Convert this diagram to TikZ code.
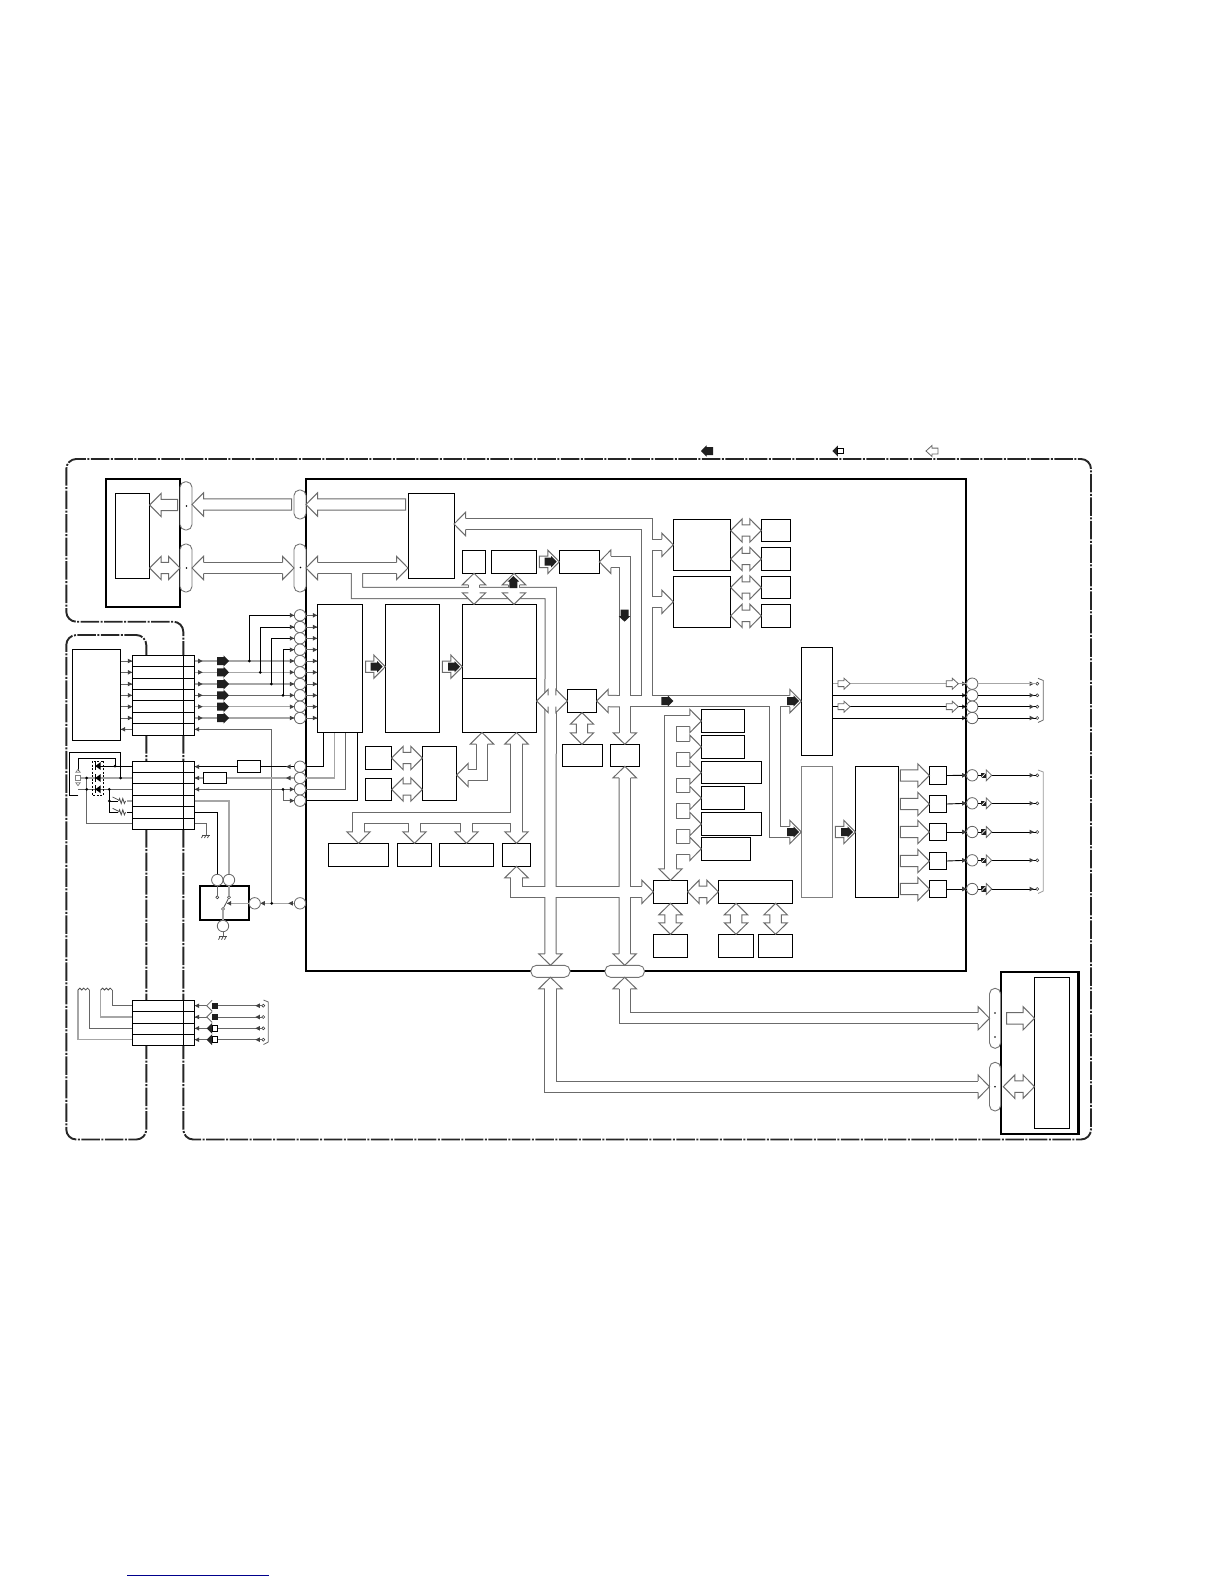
\documentclass[tikz,border=0pt]{standalone}
\usepackage{tikz}
\usetikzlibrary{arrows.meta, calc, positioning}

\newcommand{\blk}[6][]{\node[blkbox,#1,minimum width={(#5-#3)*1pt},minimum height={(#6-#4)*1pt}] (#2) at ({(#3+#5)/2},{(#4+#6)/2}) {};}
\newcommand{\capsule}[5]{\node[capnode,minimum width={(#4-#2)*1pt},minimum height={(#5-#3)*1pt}] (#1) at ({(#2+#4)/2},{(#3+#5)/2}) {};}

\tikzset{
  blkbox/.style={draw=black, fill=white, line width=1pt, inner sep=0pt, outer sep=0pt},
  thickbox/.style={line width=2.2pt},
  faintbox/.style={draw=black!50},
  connbox/.style={line width=1.2pt},
  capnode/.style={draw=black!55, fill=white, line width=0.9pt, rounded corners=5.5pt, inner sep=0pt, outer sep=0pt},
  pinc/.style={circle, draw=black!60, fill=white, line width=0.8pt, minimum size=11.4pt, inner sep=0pt, outer sep=0pt},
  termc/.style={circle, draw=black!75, fill=white, line width=0.6pt, minimum size=3pt, inner sep=0pt, outer sep=0pt},
  zone/.style={line width=1.9pt, black!85, rounded corners=10pt, dash pattern=on 18.5pt off 1.5pt on 2pt off 1.5pt},
  sig/.style={line width=0.9pt, black},
  sigdark/.style={line width=0.9pt, black!60},
  siggray/.style={line width=1.1pt, black!35},
  rowline/.style={line width=1pt, black},
  busline/.style={draw=black!58, line width=1pt},
  busouter/.style={draw=black!58, line width=12.3pt},
  businner/.style={draw=white, line width=10.3pt},
  tipboth/.style={shorten <=6pt, shorten >=6pt},
  tipend/.style={shorten >=6pt},
  tipstart/.style={shorten <=6pt},
  % block arrow with a closed tail between two named points
  fatarrow/.style={busline, fill=white, to path={
    ($(\tikztostart)!#1!(\tikztotarget)!5.7pt!90:(\tikztotarget)$)
    -- ($(\tikztotarget)!11.5pt!(\tikztostart)!5.7pt!-90:(\tikztostart)$)
    -- ($(\tikztotarget)!11.5pt!(\tikztostart)!11.7pt!-90:(\tikztostart)$)
    -- (\tikztotarget)
    -- ($(\tikztotarget)!11.5pt!(\tikztostart)!11.7pt!90:(\tikztostart)$)
    -- ($(\tikztotarget)!11.5pt!(\tikztostart)!5.7pt!90:(\tikztostart)$)
    -- ($(\tikztostart)!#1!(\tikztotarget)!5.7pt!-90:(\tikztotarget)$) -- cycle}},
  fatarrow/.default=0pt,
  % block arrow with two heads
  dblarrow/.style={busline, fill=white, to path={
    ($(\tikztostart)!#1!(\tikztotarget)$)
    -- ($(\tikztostart)!#1+11.5pt!(\tikztotarget)!11.7pt!90:(\tikztotarget)$)
    -- ($(\tikztostart)!#1+11.5pt!(\tikztotarget)!5.7pt!90:(\tikztotarget)$)
    -- ($(\tikztotarget)!11.5pt!(\tikztostart)!5.7pt!-90:(\tikztostart)$)
    -- ($(\tikztotarget)!11.5pt!(\tikztostart)!11.7pt!-90:(\tikztostart)$)
    -- (\tikztotarget)
    -- ($(\tikztotarget)!11.5pt!(\tikztostart)!11.7pt!90:(\tikztostart)$)
    -- ($(\tikztotarget)!11.5pt!(\tikztostart)!5.7pt!90:(\tikztostart)$)
    -- ($(\tikztostart)!#1+11.5pt!(\tikztotarget)!5.7pt!-90:(\tikztotarget)$)
    -- ($(\tikztostart)!#1+11.5pt!(\tikztotarget)!11.7pt!-90:(\tikztotarget)$) -- cycle}},
  dblarrow/.default=0pt,
  buschead/.pic={
    \fill[white] (-11.5,-11.7) -- (0,0) -- (-11.5,11.7) -- cycle;
    \draw[busline] (-11.5,-5.7) -- (-11.5,-11.7) -- (0,0) -- (-11.5,11.7) -- (-11.5,5.7);
  },
  blackmark/.pic={
    \fill[black!88] (-12,-4) -- (-5.5,-4) -- (-5.5,-5.7) -- (0,0) -- (-5.5,5.7) -- (-5.5,4) -- (-12,4) -- cycle;
  },
  hollowmark/.pic={
    \draw[black!60, line width=0.8pt, fill=white] (-12,-2.9) -- (-6,-2.9) -- (-6,-5.5) -- (0,0) -- (-6,5.5) -- (-6,2.9) -- (-12,2.9) -- cycle;
  },
  tinyhead/.pic={
    \fill[black!75] (-4.5,-2.3) -- (0,0) -- (-4.5,2.3) -- cycle;
  },
  whitesquarehead/.pic={
    \fill[black!85] (0,0) -- (5.5,-5.5) -- (5.5,5.5) -- cycle;
    \draw[black, line width=0.9pt, fill=white] (5.5,-2.8) rectangle (11,2.8);
  },
  blacksquarehead/.pic={
    \draw[black!60, line width=0.8pt, fill=white] (5.5,-5.5) -- (0,0) -- (5.5,5.5);
    \fill[black!88] (5.5,-2.8) rectangle (11,2.8);
  },
  outmark/.pic={
    \draw[black!60, line width=0.8pt, fill=white] (-5.5,-5.5) -- (0,0) -- (-5.5,5.5) -- cycle;
    \fill[black!88] (-11,-2.8) rectangle (-5.5,2.8);
    \draw[white, line width=0.7pt] (-10.5,2.3) -- (-6,-2.3);
  },
  groundmark/.pic={
    \draw[black!70, line width=0.8pt] (-4,0) -- (4,0);
    \foreach \s in {-3,0,3} \draw[black!70, line width=0.7pt] (\s,0) -- (\s-1.5,3);
  },
  diodemark/.pic={
    \fill[black] (-2.7,0) -- (2.7,-4) -- (2.7,4) -- cycle;
    \draw[black, line width=1pt] (-2.7,-4) -- (-2.7,4);
  },
  coilmark/.pic={
    \draw[line width=0.8pt, draw=black!70] (0,0) arc[start angle=180, end angle=0, radius=1.9pt] arc[start angle=180, end angle=0, radius=1.9pt] arc[start angle=180, end angle=0, radius=1.9pt];
  },
  resmark/.pic={
    \draw[line width=0.8pt, draw=black!70] (0,0) -- (1,-2.5) -- (2.6,2.5) -- (4.2,-2.5) -- (5.8,2.5) -- (7,0);
    \draw[line width=0.7pt, draw=black!70] (-6,-4) -- (0,-1);
  },
}

\begin{document}
\begin{tikzpicture}[x=1pt, y=-1pt]
\useasboundingbox (0,0) rectangle (1224,1584);

% Dash-dot zones
\draw[zone] (183.3,1139.5) -- (183.3,621.7) -- (66.3,621.7) -- (66.3,459) -- (1091,459) -- (1091,1139.5) -- cycle;
\draw[zone] (146.3,1139.5) -- (146.3,635) -- (66.3,635) -- (66.3,1139.5) -- cycle;

% Legend
\pic[rotate=180] at (701,451) {blackmark};
\pic at (832.3,451) {whitesquarehead};
\pic[rotate=180] at (926,451) {hollowmark};
\draw[blue!55!black, line width=1.2pt] (127,1575.3) -- (269,1575.3);

% Outer modules
\blk[thickbox]{topmod}{106}{478.7}{180}{606.7}
\blk{topcore}{115.3}{493}{149.7}{578}
\blk[thickbox]{main}{306}{478.7}{966}{970.7}
\blk[thickbox]{botmod}{1001}{972}{1078.5}{1134}
\blk{botcore}{1034.5}{977.3}{1069.8}{1128.3}

% Blocks of the main module
\blk{buf}{408}{493}{454}{578}
\blk{smallA}{462.3}{550.3}{485.7}{573.3}
\blk{smallB}{491.3}{550.3}{536.7}{573.3}
\blk{smallC}{559.3}{550.3}{599.3}{573.3}
\blk{fifoA}{673.3}{519.3}{730.7}{570.3}
\blk{fifoB}{673.3}{576.3}{730.7}{627.3}
\blk{chipA}{761.3}{519.3}{790.7}{541.7}
\blk{chipB}{761.3}{547.3}{790.7}{570.7}
\blk{chipC}{761.3}{576.3}{790.7}{598.7}
\blk{chipD}{761.3}{604.3}{790.7}{627.3}
\blk{decodeL}{317.3}{604.3}{362.7}{732.5}
\blk{decodeM}{385.3}{604.3}{439.7}{732.5}
\blk{ram}{462.3}{604.3}{536.7}{732.5}
\draw[rowline] (ram.west |- 0,678.3) -- (ram.east |- 0,678.3);
\blk{port}{567.3}{689.3}{596.7}{712.7}
\blk{rom}{562.3}{744.3}{602.3}{766.3}
\blk{latch}{610.3}{744.3}{639.3}{766.3}
\blk{chipE}{365.3}{746.3}{391.7}{769.7}
\blk{chipF}{365.3}{778.3}{391.7}{800.7}
\blk{combo}{422.3}{746.3}{456.7}{800.7}
\blk{decA}{328.3}{843.3}{388.7}{866.3}
\blk{decB}{397.3}{843.3}{431.7}{866.3}
\blk{decC}{439.3}{843.3}{493.7}{866.3}
\blk{decD}{502.3}{843.3}{530.7}{866.3}
\blk{hub}{653.3}{880.3}{687.7}{903.3}
\blk{wide}{718.3}{880.3}{792.7}{903.3}
\blk{memA}{653.3}{934.3}{687.7}{957.3}
\blk{memB}{718.3}{934.3}{753.8}{957.3}
\blk{memC}{758.5}{934.3}{792.7}{957.3}
\blk{slotA}{701.3}{709.3}{744.7}{732.7}
\blk{slotB}{701.3}{735.3}{744.7}{758.3}
\blk{slotC}{701.3}{761.3}{761.7}{783.7}
\blk{slotD}{701.3}{786.3}{744.7}{809.7}
\blk{slotE}{701.3}{812.3}{761.7}{835.7}
\blk{slotF}{701.3}{837.3}{750.7}{860.3}
\blk{outA}{801.3}{647.3}{832.7}{755.3}
\blk[faintbox]{outB}{801.3}{766.7}{832.7}{897.3}
\blk{dsp}{855.3}{766.3}{898.7}{897.3}
\blk{drvA}{929.3}{766.3}{946.7}{784.7}
\blk{drvB}{929.3}{795.3}{946.7}{812.7}
\blk{drvC}{929.3}{823.3}{946.7}{840.7}
\blk{drvD}{929.3}{852.3}{946.7}{869.7}
\blk{drvE}{929.3}{880.3}{946.7}{897.7}

% Connector capsules
\capsule{capTopA}{180}{481.7}{192}{530}
\capsule{capTopB}{180}{544}{192}{592}
\capsule{capMainA}{294}{490}{306}{519}
\capsule{capMainB}{294}{544}{306}{592}
\capsule{capBotA}{530.9}{965.3}{570}{977.3}
\capsule{capBotB}{605}{965.3}{644.4}{977.3}
\capsule{capRA}{989.5}{988.3}{1000.7}{1048.3}
\capsule{capRB}{989.5}{1062.3}{1000.7}{1111}
\foreach \px/\py in {186.5/506, 186.5/568, 300.5/567.5, 995/1013, 995/1037, 995/1086.7}
  \fill (\px,\py) circle (0.9pt);

% Bus junctions
\coordinate (jA) at (357,567.7);
\coordinate (jB) at (550.7,593);
\coordinate (jC) at (647,524);
\coordinate (jD) at (647,701.7);
\coordinate (jE) at (624.8,701.2);
\coordinate (jF) at (775,701.2);
\coordinate (jG) at (516.5,891.8);
\coordinate (jH) at (516.5,817.7);
\coordinate (jK) at (482,775);
\newcommand{\busroutes}{
  \draw[bus,tipboth] (capTopB.east) -- (capMainB.west);
  \draw[bus,tipboth] (capMainB.east) -- (buf.west |- capMainB);
  \draw[bus,tipend] (jA) -- (jA |- jB) -- (jB) -- (capBotA.north);
  \draw[bus,tipboth] (smallA.south) -- (ram.north -| smallA);
  \draw[bus,tipboth] (smallB.south) -- (ram.north -| smallB);
  \draw[bus,tipstart] (buf.east |- jC) -- (jC) -- (jD);
  \draw[bus,tipend] (fifoA.west -| jC) -- (fifoA.west);
  \draw[bus,tipend] (fifoB.west -| jC) -- (fifoB.west);
  \draw[bus,tipend] (jE) -- (outA.west |- jE);
  \draw[bus,tipend] (jF) -- (jF |- outB.west) -- (outB.west);
  \draw[bus,tipstart] (port.east) -- (jE);
  \draw[bus,tipboth] (smallC.east) -- (smallC.east -| jE) -- (latch.north);
  \draw[bus,tipboth] (ram.east |- port) -- (port.west);
  \draw[bus,tipboth] (latch.south) -- (capBotB.north);
  \draw[bus,tipboth] (decD.south) -- (jG) -- (hub.west |- jG);
  \draw[bus,tipboth] (ram.south -| jH) -- (decD.north);
  \draw[bus,tipend] (jH) -- (decA.north |- jH) -- (decA.north);
  \draw[bus,tipend] (decB.north |- jH) -- (decB.north);
  \draw[bus,tipend] (decC.north |- jH) -- (decC.north);
  \draw[bus,tipboth] (combo.east |- jK) -- (jK) -- (ram.south -| jK);
  \draw[bus,tipboth] (hub.north) -- (hub.north |- slotA.west) -- (slotA.west);
  \foreach \s in {slotB,slotC,slotD,slotE,slotF}
    \draw[bus,tipend] (hub.north |- \s.west) -- (\s.west);
  \draw[bus,tipboth] (capBotA.south) -- (capBotA.south |- capRB.west) -- (capRB.west);
  \draw[bus,tipboth] (capBotB.south) -- (capBotB.south |- capRA.west) -- (capRA.west);
}
% Buses: outlines, then interiors, then heads
\tikzset{bus/.style={busouter}}
\busroutes
\tikzset{bus/.style={businner}}
\busroutes
\foreach \tip/\ang in {capTopB.east/180, capMainB.west/0, capMainB.east/180, buf.west |- capMainB/0,
  smallA.south/90, ram.north -| smallA/270, smallB.south/90, ram.north -| smallB/270,
  buf.east |- jC/180, fifoA.west/0, fifoB.west/0, outA.west |- jE/0, outB.west/0, port.east/180,
  smallC.east/180, latch.north/270, ram.east |- port/180, port.west/0, latch.south/90,
  capBotB.north/270, capBotA.north/270, decD.south/90, hub.west |- jG/0, ram.south -| jH/90,
  decD.north/270, decA.north/270, decB.north/270, decC.north/270, combo.east |- jK/180,
  ram.south -| jK/90, hub.north/270, slotA.west/0, slotB.west/0, slotC.west/0, slotD.west/0,
  slotE.west/0, slotF.west/0, capBotA.south/90, capRB.west/0, capBotB.south/90, capRA.west/0}
  \pic[rotate=\ang] at (\tip) {buschead};

% Straight block arrows
\coordinate (tailTop) at (177.7,505);
\coordinate (rowDec) at (0,666.7);
\draw[fatarrow] (tailTop) to (topcore.east |- tailTop);
\draw[fatarrow=2.3pt] (capMainA.west) to (capTopA.east |- capMainA);
\draw[fatarrow=2.3pt] (buf.west |- capMainA) to (capMainA.east);
\draw[fatarrow=3pt] (decodeL.east |- rowDec) to (decodeM.west |- rowDec);
\draw[fatarrow=2.6pt] (decodeM.east |- rowDec) to (ram.west |- rowDec);
\draw[fatarrow=2.7pt] (smallB.east) to (smallC.west);
\draw[fatarrow=2.6pt] (outB.east) to (dsp.west |- outB.east);
\foreach \d in {drvA,drvB,drvC,drvD,drvE}
  \draw[fatarrow=1.6pt] (dsp.east |- \d.west) to (\d.west);
\draw[fatarrow=5.8pt] (capRA.east) to (botcore.west |- capRA.east);
\draw[dblarrow] (topcore.east |- capTopB) to (capTopB.west);
\draw[dblarrow=2.6pt] (capRB.east) to (botcore.west |- capRB.east);
\foreach \c in {chipA,chipB,chipC,chipD}
  \draw[dblarrow] (fifoA.east |- \c.west) to (\c.west);
\draw[dblarrow] (chipE.east) to (combo.west |- chipE.east);
\draw[dblarrow] (chipF.east) to (combo.west |- chipF.east);
\draw[dblarrow] (port.south) to (rom.north -| port.south);
\draw[dblarrow] (hub.east) to (wide.west);
\draw[dblarrow] (hub.south) to (memA.north);
\draw[dblarrow] (memB.north |- wide.south) to (memB.north);
\draw[dblarrow] (memC.north |- wide.south) to (memC.north);

% Solid marks on the buses
\foreach \mx/\my/\ang in {382.7/666.7/0, 460/666.7/0, 556.7/561.7/0, 853/832/0, 799/701/0, 799/832/0,
  673.3/701/0, 624.5/621.7/270, 513.4/576/90}
  \pic[rotate=\ang] at (\mx,\my) {blackmark};

% Left connectors
\blk[connbox]{connA}{132.3}{655.3}{194.7}{735.3}
\blk[connbox]{connB}{132.3}{761.3}{194.7}{829.3}
\blk[connbox]{connC}{132.3}{1000.7}{194.7}{1045.3}
\foreach \ry in {666.3,678.3,689.3,700.3,712.3,723.7}
  \draw[rowline] (connA.west |- 0,\ry) -- (connA.east |- 0,\ry);
\foreach \ry in {772.3,783.3,795,806.3,818}
  \draw[rowline] (connB.west |- 0,\ry) -- (connB.east |- 0,\ry);
\foreach \ry in {1011.7,1023.3,1034.3}
  \draw[rowline] (connC.west |- 0,\ry) -- (connC.east |- 0,\ry);
\foreach \c in {connA,connB,connC}
  \draw[rowline] (183.3,0 |- \c.north) -- (183.3,0 |- \c.south);
\blk{host}{72.3}{649.3}{120.7}{740.3}

% Input pins
\foreach \i/\py in {1/615.3, 2/627, 3/638.3, 4/649.7, 5/661, 6/672.3, 7/684, 8/695.3, 9/706.7, 10/718,
  11/766.7, 12/778, 13/789.3, 14/800.7, 15/903.3}
  \node[pinc] (pin\i) at (300,\py) {};
\foreach \i/\st in {5/siggray, 6/siggray, 7/siggray, 8/sigdark, 9/siggray, 10/siggray} {
  \draw[sigdark] (host.east |- pin\i) -- (connA.west |- pin\i);
  \draw[\st] (connA.east |- pin\i) -- (pin\i.west);
  \pic at (connA.west |- pin\i) {tinyhead};
  \pic at (202.7,0 |- pin\i) {tinyhead};
  \pic at (229,0 |- pin\i) {blackmark};
  \pic at (pin\i.west) {tinyhead};
}
\foreach \i in {1,...,10} {
  \draw[sigdark] (pin\i.east) -- (decodeL.west |- pin\i);
  \pic at (decodeL.west |- pin\i) {tinyhead};
}
\foreach \i/\j/\jx in {1/5/249.3, 2/6/260.3, 3/7/271.3, 4/8/283} {
  \draw[sig] (\jx,0 |- pin\j) |- (pin\i.west);
  \fill (\jx,0 |- pin\j) circle (1.5pt);
  \pic at (pin\i.west) {tinyhead};
}
\coordinate (jRelay) at (271.7,903.3);
\draw[sigdark] (jRelay) -- (jRelay |- 0,729.3) -- (connA.east |- 0,729.3);
\pic[rotate=180] at (connA.east |- 0,729.3) {tinyhead};
\draw[sigdark] (connA.west |- 0,729.3) -- (host.east |- 0,729.3);
\pic[rotate=180] at (host.east |- 0,729.3) {tinyhead};

% Lines out of connB
\blk{resA}{237.3}{760.3}{260.7}{772.3}
\blk{resB}{203.3}{772.3}{226.7}{783.3}
\draw[sig] (pin11.west) -- (resA.east |- pin11);
\draw[sig] (resA.west |- pin11) -- (connB.east |- pin11);
\draw[siggray] (pin12.west) -- (resB.east |- pin12);
\draw[siggray] (resB.west |- pin12) -- (connB.east |- pin12);
\draw[sigdark] (pin13.west) -- (connB.east |- pin13);
\coordinate (jPin) at (283,789.3);
\draw[sigdark] (jPin) |- (pin14.west);
\fill (jPin) circle (1.5pt);
\foreach \i in {11,12,13} {
  \pic[rotate=180] at (connB.east |- pin\i) {tinyhead};
}
\pic[rotate=180] at (286,0 |- pin11) {tinyhead};
\pic[rotate=180] at (286,0 |- pin12) {tinyhead};
\pic at (pin13.west) {tinyhead};
\pic at (pin14.west) {tinyhead};
\draw[sig] (pin11.east) -- (323.7,0 |- pin11) -- (323.7,0 |- decodeL.south);
\draw[siggray] (pin12.east) -- (334.3,0 |- pin12) -- (334.3,0 |- decodeL.south);
\draw[sigdark] (pin13.east) -- (345.7,0 |- pin13) -- (345.7,0 |- decodeL.south);
\draw[sig] (pin14.east) -- (357.3,0 |- pin14) -- (357.3,0 |- decodeL.south);

% Relay
\blk[thickbox]{relay}{200}{885.7}{249.3}{920}
\node[pinc] (relA) at (217.3,880) {};
\node[pinc] (relB) at (229,880) {};
\node[pinc] (relC) at (254.7,903.3) {};
\node[pinc] (relD) at (223,926) {};
\node[termc] (conA) at (217.3,897.3) {};
\node[termc] (conB) at (229,897.3) {};
\node[termc] (conC) at (223,909) {};
\draw[sig] (connB.east |- 0,812.3) -| (relA.north);
\draw[siggray] (connB.east |- 0,801) -| (relB.north);
\draw[sigdark] (relA.south) -- (conA.north);
\draw[siggray] (relB.south) -- (conB.north);
\draw[siggray] (relD.north) -- (conC.south);
\draw[black!70, line width=0.8pt] (conC) -- (conB);
\draw[siggray] (relC.west) -- (227,903.3);
\pic[rotate=180] at (226.7,903.3) {tinyhead};
\draw[siggray] (relC.east) -- (pin15.west);
\pic[rotate=180] at (relC.east) {tinyhead};
\pic[rotate=180] at (288.3,903.3) {tinyhead};
\fill (jRelay) circle (1.5pt);
\draw[sigdark] (relD.south) -- (223,936.7);
\pic at (223,936.7) {groundmark};
\draw[sigdark] (connB.east |- 0,823.3) -| (206,835);
\pic at (206,835) {groundmark};

% Diodes and sensors
\coordinate (jDioB) at (120.7,778);
\coordinate (jDioA) at (115,766);
\draw[sig] (78.3,795.3) -- (69.3,795.3) -- (69.3,752.7) -| (jDioB);
\draw[sig] (78.3,771) -- (78.3,758.3) -| (jDioA);
\draw[sig] (95,766) -- (connB.west |- 0,766);
\draw[siggray] (80.7,778) -- (connB.west |- 0,778);
\draw[sigdark] (78.3,789.3) -- (connB.west |- 0,789.3);
\draw[sigdark] (86.7,778) -- (86.7,823.3) -- (connB.west |- 0,823.3);
\draw[sig] (109.3,789.3) -- (109.3,812.3) -- (118.3,812.3);
\draw[sig] (109.3,801) -- (118.3,801);
\draw[siggray] (126.7,801) -- (connB.west |- 0,801);
\draw[sig] (126.7,812.3) -- (connB.west |- 0,812.3);
\draw[black, line width=0.7pt, dash pattern=on 2pt off 1.5pt] (92.3,761) rectangle (103.7,795);
\foreach \dy in {766,778,789.3}
  \pic at (98,\dy) {diodemark};
\foreach \jx/\jy in {115/766, 120.7/778, 86.7/778, 86.7/789.3, 109.3/789.3, 109.3/801}
  \fill (\jx,\jy) circle (1.5pt);
\pic at (118.6,801) {resmark};
\pic at (118.6,812.3) {resmark};
\draw[black!50, line width=0.7pt] (75.3,775) rectangle (80.7,780.7);
\draw[black!50, line width=0.7pt] (75.8,772.3) -- (78,769.3) -- (80.2,772.3) -- cycle;
\draw[black!50, line width=0.7pt] (75.8,782.7) -- (78,785.7) -- (80.2,782.7) -- cycle;

% Coils and connC
\foreach \i/\py in {1/1005.7, 2/1017, 3/1028.3, 4/1039.7} {
  \node[termc] (termL\i) at (263.3,\py) {};
  \draw[sigdark] (termL\i.west) -- (connC.east |- termL\i);
  \pic[rotate=180] at (connC.east |- termL\i) {tinyhead};
  \pic[rotate=180] at (255.3,0 |- termL\i) {tinyhead};
}
\pic at (206.7,1005.7) {blacksquarehead};
\pic at (206.7,1017) {blacksquarehead};
\pic at (206.7,1028.3) {whitesquarehead};
\pic at (206.7,1039.7) {whitesquarehead};
\draw[black!60, line width=0.8pt] (263.5,1000) -- (268.3,1002) -- (268.3,1042) -- (263.5,1044.5);
\pic at (100.7,990) {coilmark};
\pic at (78,990) {coilmark};
\draw[sigdark] (112.3,990) |- (connC.west |- termL1);
\draw[siggray] (100.7,990) |- (connC.west |- termL2);
\draw[sigdark] (89.3,990) |- (connC.west |- termL3);
\draw[siggray] (78,990) |- (connC.west |- termL4);

% Output pins
\foreach \i/\py in {1/683.7, 2/695.3, 3/706.7, 4/718, 5/775.3, 6/803.3, 7/832, 8/860.3, 9/889} {
  \node[pinc] (rpin\i) at (972.2,\py) {};
  \node[termc] (termR\i) at (1037.3,\py) {};
  \draw[sig] (rpin\i.east) -- (termR\i.west);
  \pic at (1034,\py) {tinyhead};
  \pic at (rpin\i.west) {tinyhead};
}
\draw[siggray] (rpin1.east) -- (termR1.west);
\draw[siggray] (outA.east |- rpin1) -- (rpin1.west);
\draw[sig] (outA.east |- rpin2) -- (rpin2.west);
\draw[sig] (outA.east |- rpin3) -- (rpin3.west);
\draw[sig] (outA.east |- rpin4) -- (rpin4.west);
\foreach \i in {1,3} {
  \pic at (850,0 |- rpin\i) {hollowmark};
  \pic at (958.3,0 |- rpin\i) {hollowmark};
}
\foreach \i/\d in {5/drvA, 6/drvB, 7/drvC, 8/drvD, 9/drvE} {
  \draw[sig] (\d.east) -- (rpin\i.west);
  \pic at (rpin\i.west) {tinyhead};
  \pic at (991.7,0 |- rpin\i) {outmark};
}
\draw[black!60, line width=0.8pt] (1038,678.3) -- (1043.3,680.5) -- (1043.3,720) -- (1038,722.5);
\draw[black!40, line width=0.8pt] (1038,770) -- (1043.3,772) -- (1043.3,891) -- (1038,893.5);
\end{tikzpicture}
\end{document}
